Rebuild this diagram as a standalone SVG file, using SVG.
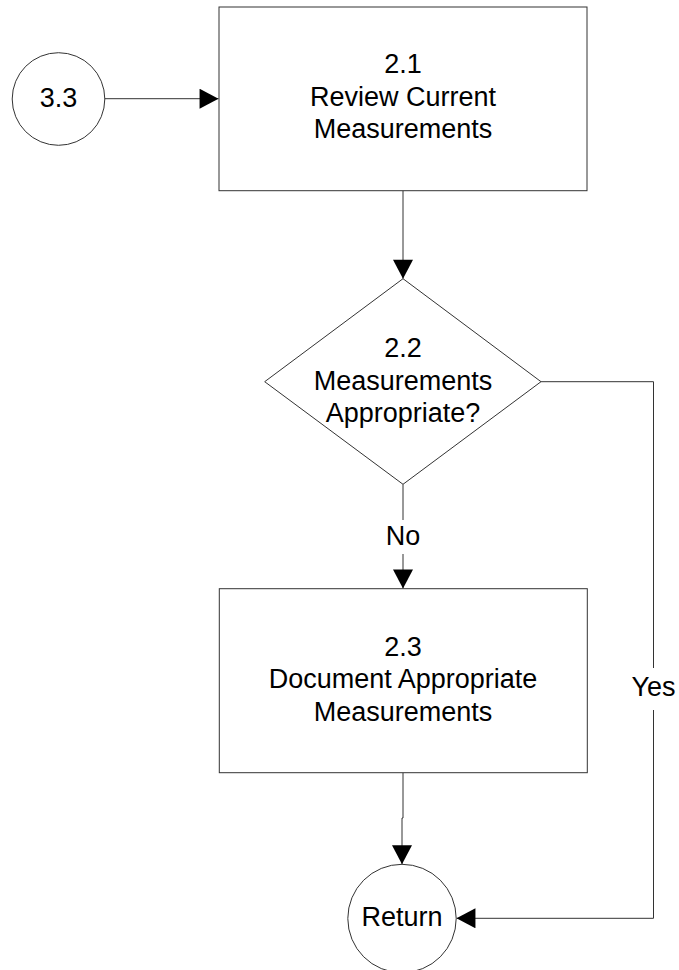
<svg xmlns="http://www.w3.org/2000/svg" width="679" height="970" viewBox="0 0 679 970">
<style>
.shape{fill:#ffffff;stroke:#333333;stroke-width:1}
.conn{fill:none;stroke:#333333;stroke-width:1}
text{font-family:"Liberation Sans",Arial,sans-serif;font-size:27px;fill:#000000;text-anchor:middle}
</style>
<defs>
<marker id="arrow" markerUnits="userSpaceOnUse" markerWidth="20" markerHeight="20" viewBox="0 0 18 19" refX="18" refY="9.5" orient="auto">
<path d="M0,0 L18,9.5 L0,19 Z" fill="#000000"/>
</marker>
</defs>
<rect width="679" height="970" fill="#ffffff"/>
<g id="connectors">
<path class="conn" d="M105,98.7 H218.5" marker-end="url(#arrow)"/>
<path class="conn" d="M403,190.5 V278.7" marker-end="url(#arrow)"/>
<path class="conn" d="M403,484.3 V520 M403,554 V588.5" marker-end="url(#arrow)"/>
<path class="conn" d="M403,772.7 V818 H402 V864.3" marker-end="url(#arrow)"/>
<path class="conn" d="M541,381.7 H653.5 V668 M653.5,710 V918.3 H456.5" marker-end="url(#arrow)"/>
<text x="403" y="545">No</text>
<text x="653.5" y="696">Yes</text>
</g>
<g id="n33">
<circle class="shape" cx="58.5" cy="99" r="46.3"/>
<text x="58.5" y="107.3">3.3</text>
</g>
<g id="n21">
<rect class="shape" x="219" y="7" width="368" height="183.7"/>
<text x="403" y="73.3">2.1</text>
<text x="403" y="105.7">Review Current</text>
<text x="403" y="138.3">Measurements</text>
</g>
<g id="n22">
<polygon class="shape" points="403,278.7 541,381.7 403,484.3 264.7,381.7"/>
<text x="403" y="357">2.2</text>
<text x="403" y="389.5">Measurements</text>
<text x="403" y="422">Appropriate?</text>
</g>
<g id="n23">
<rect class="shape" x="219.3" y="588.7" width="368" height="184"/>
<text x="403" y="655.5">2.3</text>
<text x="403" y="688.3">Document Appropriate</text>
<text x="403" y="720.7">Measurements</text>
</g>
<g id="nreturn">
<circle class="shape" cx="402" cy="918.5" r="54.2"/>
<text x="402" y="926">Return</text>
</g>
</svg>
